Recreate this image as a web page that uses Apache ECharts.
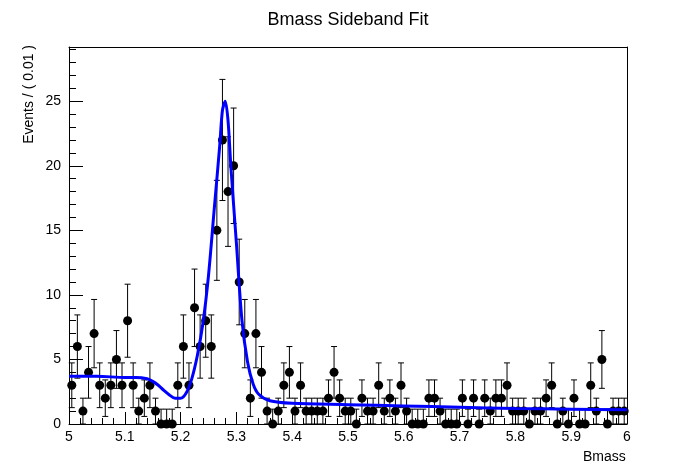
<!DOCTYPE html>
<html><head><meta charset="utf-8">
<script src="https://cdn.jsdelivr.net/npm/echarts@6/dist/echarts.min.js"></script>
<style>html,body{margin:0;background:#fff}#c{width:696px;height:472px}</style>
</head><body><div id="c"></div>
<script>
// counts per 0.01 bin from 5.00 to 6.00
var counts = [3,6,1,4,7,3,2,3,5,3,8,3,1,2,3,1,0,0,0,3,
  6,3,9,6,8,6,15,22,18,20,11,7,2,7,4,1,0,1,3,4,
  1,3,1,1,1,1,2,4,2,1,1,0,2,1,1,3,1,2,1,3,
  1,0,0,0,2,2,1,0,0,0,2,0,2,0,2,1,2,2,3,1,
  1,1,0,1,1,2,3,0,1,0,2,0,0,3,1,5,0,1,1,1];
// fitted curve
var fitX = [5.00,5.05,5.10,5.12,5.14,5.15,5.16,5.17,5.18,5.19,5.20,5.21,5.22,5.23,5.24,5.25,5.26,5.27,5.275,5.28,5.285,5.29,5.30,5.31,5.32,5.33,5.34,5.36,5.40,5.50,5.60,5.70,5.80,5.90,6.00];
var fitY = [3.7,3.7,3.6,3.6,3.5,3.3,3.0,2.6,2.25,2.0,2.0,2.4,3.5,5.3,7.8,11.5,16.5,21.5,24.3,25,23.5,20,14,8,4.8,3.1,2.3,1.8,1.6,1.5,1.4,1.3,1.2,1.15,1.1];

var pts = counts.map(function (n, i) { return [5.005 + 0.01 * i, n]; });
var errs = counts.map(function (n, i) {
  var e = n === 0 ? 1.15 : Math.sqrt(n);
  return [5.005 + 0.01 * i, n === 0 ? 0 : n - e, n + e];
});
var fit = fitX.map(function (x, i) { return [x, fitY[i]]; });

var chart = echarts.init(document.getElementById('c'));
var axisText = { fontFamily: 'Liberation Sans', fontSize: 14, color: '#000' };
chart.setOption({
  animation: false,
  title: { text: 'Bmass Sideband Fit', left: 'center', top: 6,
    textStyle: { fontFamily: 'Liberation Sans', fontSize: 18, fontWeight: 'normal', color: '#000' } },
  graphic: [{
    type: 'text', left: 22, top: 45, rotation: Math.PI / 2,
    style: { text: 'Events / ( 0.01 )', fontFamily: 'Liberation Sans', fontSize: 14, fill: '#000',
      align: 'right', verticalAlign: 'top' }
  }],
  grid: { left: 69, right: 69, top: 47, bottom: 48 },
  xAxis: [{
    type: 'value', min: 5, max: 6, interval: 0.1,
    axisLine: { lineStyle: { color: '#000' } },
    axisTick: { inside: true, length: 12, lineStyle: { color: '#000' } },
    minorTick: { show: true, splitNumber: 5, length: 6, lineStyle: { color: '#000' } },
    axisLabel: Object.assign({ margin: 6, formatter: function (v) { return +v.toFixed(1); } }, axisText),
    splitLine: { show: false },
    name: 'Bmass', nameLocation: 'end', nameGap: -44,
    nameTextStyle: Object.assign({ verticalAlign: 'top', padding: [26, 0, 0, 0] }, axisText)
  }, {
    type: 'value', min: 5, max: 6, position: 'top',
    axisLine: { show: true, onZero: false, lineStyle: { color: '#000' } },
    axisTick: { show: false }, axisLabel: { show: false }, splitLine: { show: false }
  }],
  yAxis: [{
    type: 'value', min: 0, max: 29.2, interval: 5,
    axisLine: { show: true, lineStyle: { color: '#000' } },
    axisTick: { inside: true, length: 14, lineStyle: { color: '#000' } },
    minorTick: { show: true, splitNumber: 5, length: 7, lineStyle: { color: '#000' } },
    axisLabel: Object.assign({ margin: 8, showMaxLabel: false }, axisText),
    splitLine: { show: false }
  }, {
    type: 'value', min: 0, max: 29.2, position: 'right',
    axisLine: { show: true, lineStyle: { color: '#000' } },
    axisTick: { show: false }, axisLabel: { show: false }, splitLine: { show: false }
  }],
  series: [{
    type: 'custom', data: errs, z: 2,
    renderItem: function (params, api) {
      var x = api.value(0);
      var a = api.coord([x, api.value(1)]);
      var b = api.coord([x, api.value(2)]);
      var s = { stroke: '#000', lineWidth: 1 };
      return { type: 'group', children: [
        { type: 'line', shape: { x1: a[0], y1: a[1], x2: b[0], y2: b[1] }, style: s },
        { type: 'line', shape: { x1: a[0] - 3, y1: a[1], x2: a[0] + 3, y2: a[1] }, style: s },
        { type: 'line', shape: { x1: b[0] - 3, y1: b[1], x2: b[0] + 3, y2: b[1] }, style: s }
      ] };
    }
  }, {
    type: 'scatter', data: pts, symbolSize: 9, itemStyle: { color: '#000', opacity: 1 }, z: 3
  }, {
    type: 'line', data: fit, smooth: 0.3, showSymbol: false, z: 4,
    lineStyle: { color: '#0000ff', width: 3 }
  }]
});
</script></body></html>
